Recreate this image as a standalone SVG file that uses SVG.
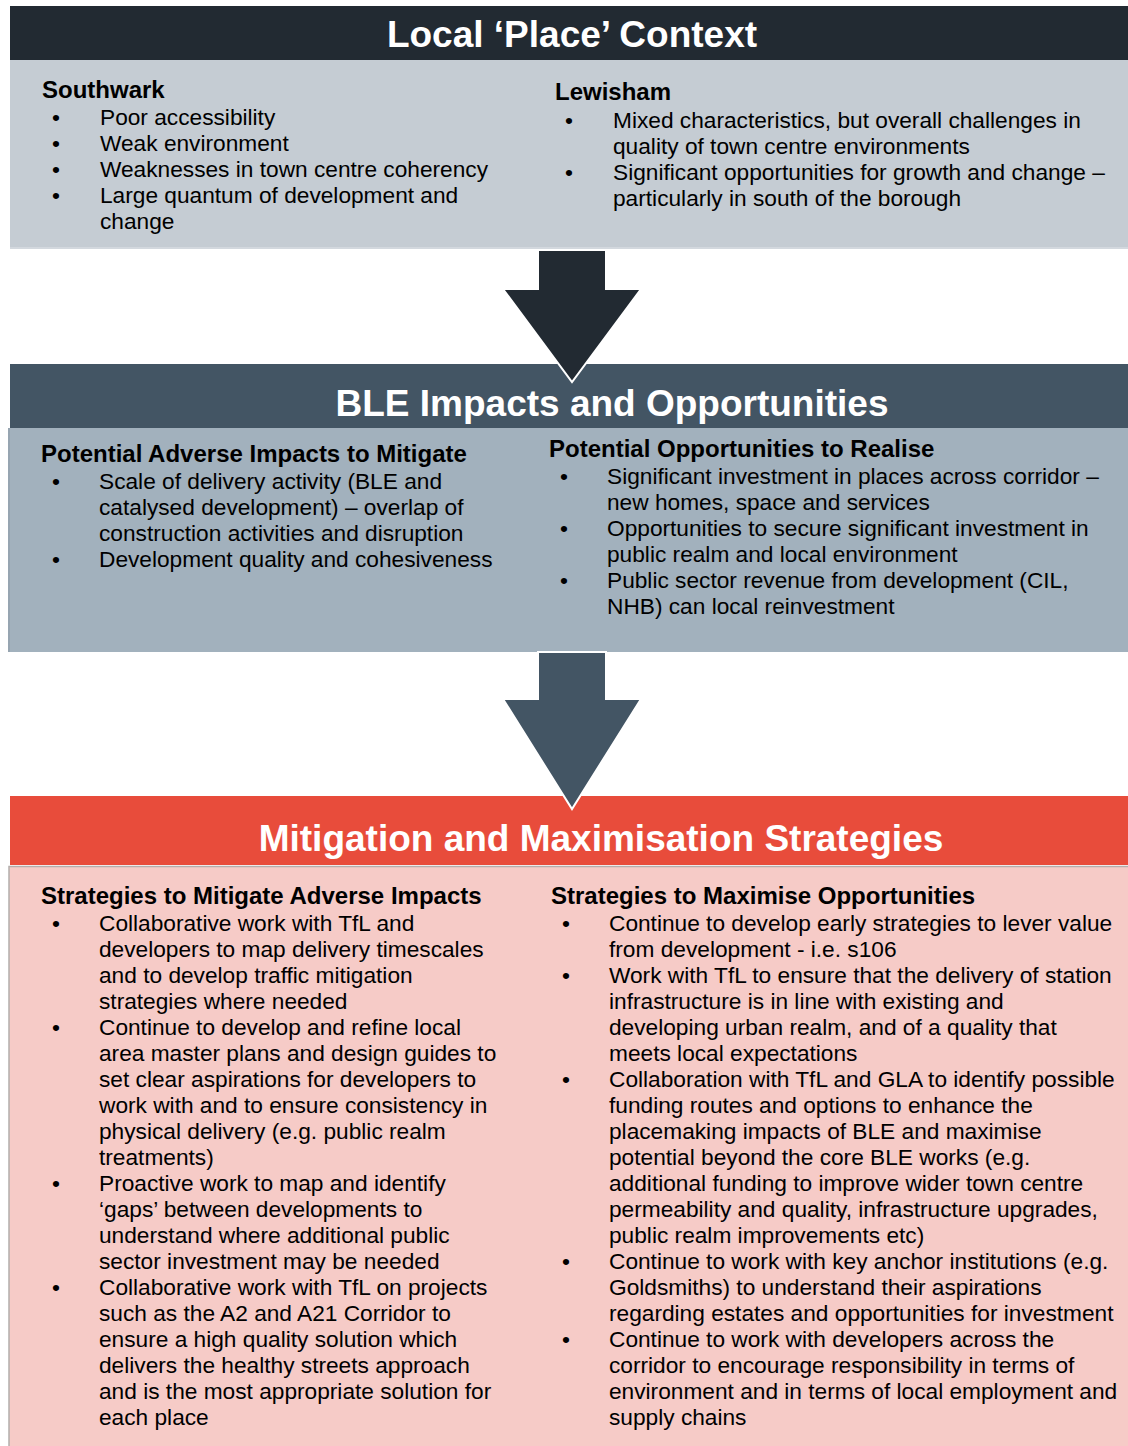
<svg xmlns="http://www.w3.org/2000/svg" width="1128" height="1446" viewBox="0 0 1128 1446">
<style>
text{font-family:"Liberation Sans",Arial,sans-serif;fill:#000}
.t{font-size:22.7px}
.h{font-size:24px;font-weight:bold}
.title{font-size:37px;font-weight:bold;fill:#fff;text-anchor:middle}
</style>
<rect width="1128" height="1446" fill="#fff"/>
<g id="local-context">
<rect x="10" y="60" width="1118" height="189" fill="#c5ccd3"/>
<rect x="10" y="247" width="1118" height="2" fill="#d3d8de"/>
<rect x="10" y="6" width="1118" height="54" fill="#222a32"/>
<text class="title" x="572" y="47">Local ‘Place’ Context</text>
<text class="h" x="42" y="98">Southwark</text>
<text class="t" x="52" y="125">•</text><text class="t" x="100" y="125">Poor accessibility</text>
<text class="t" x="52" y="151">•</text><text class="t" x="100" y="151">Weak environment</text>
<text class="t" x="52" y="177">•</text><text class="t" x="100" y="177">Weaknesses in town centre coherency</text>
<text class="t" x="52" y="203">•</text><text class="t" x="100" y="203">Large quantum of development and</text>
<text class="t" x="100" y="229">change</text>
<text class="h" x="555" y="100">Lewisham</text>
<text class="t" x="565" y="128">•</text><text class="t" x="613" y="128">Mixed characteristics, but overall challenges in</text>
<text class="t" x="613" y="154">quality of town centre environments</text>
<text class="t" x="565" y="180">•</text><text class="t" x="613" y="180">Significant opportunities for growth and change –</text>
<text class="t" x="613" y="206">particularly in south of the borough</text>
</g>
<g id="ble-impacts">
<rect x="8" y="428" width="1120" height="224" fill="#a2b1bd"/>
<rect x="8" y="428" width="2" height="224" fill="#97a5b1"/>
<rect x="10" y="364" width="1118" height="64" fill="#435564"/>
<text class="title" x="612" y="416">BLE Impacts and Opportunities</text>
<text class="h" x="41" y="462">Potential Adverse Impacts to Mitigate</text>
<text class="t" x="52" y="489">•</text><text class="t" x="99" y="489">Scale of delivery activity (BLE and</text>
<text class="t" x="99" y="515">catalysed development) – overlap of</text>
<text class="t" x="99" y="541">construction activities and disruption</text>
<text class="t" x="52" y="567">•</text><text class="t" x="99" y="567">Development quality and cohesiveness</text>
<text class="h" x="549" y="457">Potential Opportunities to Realise</text>
<text class="t" x="560" y="484">•</text><text class="t" x="607" y="484">Significant investment in places across corridor –</text>
<text class="t" x="607" y="510">new homes, space and services</text>
<text class="t" x="560" y="536">•</text><text class="t" x="607" y="536">Opportunities to secure significant investment in</text>
<text class="t" x="607" y="562">public realm and local environment</text>
<text class="t" x="560" y="588">•</text><text class="t" x="607" y="588">Public sector revenue from development (CIL,</text>
<text class="t" x="607" y="614">NHB) can local reinvestment</text>
</g>
<g id="strategies">
<rect x="9" y="866.5" width="1120" height="581" fill="#f6cbc7" stroke="#b3aeac" stroke-width="1.5"/>
<rect x="10" y="796" width="1118" height="69" fill="#e84c3b"/>
<text class="title" x="601" y="851">Mitigation and Maximisation Strategies</text>
<text class="h" x="41" y="904">Strategies to Mitigate Adverse Impacts</text>
<text class="t" x="52" y="931">•</text><text class="t" x="99" y="931">Collaborative work with TfL and</text>
<text class="t" x="99" y="957">developers to map delivery timescales</text>
<text class="t" x="99" y="983">and to develop traffic mitigation</text>
<text class="t" x="99" y="1009">strategies where needed</text>
<text class="t" x="52" y="1035">•</text><text class="t" x="99" y="1035">Continue to develop and refine local</text>
<text class="t" x="99" y="1061">area master plans and design guides to</text>
<text class="t" x="99" y="1087">set clear aspirations for developers to</text>
<text class="t" x="99" y="1113">work with and to ensure consistency in</text>
<text class="t" x="99" y="1139">physical delivery (e.g. public realm</text>
<text class="t" x="99" y="1165">treatments)</text>
<text class="t" x="52" y="1191">•</text><text class="t" x="99" y="1191">Proactive work to map and identify</text>
<text class="t" x="99" y="1217">‘gaps’ between developments to</text>
<text class="t" x="99" y="1243">understand where additional public</text>
<text class="t" x="99" y="1269">sector investment may be needed</text>
<text class="t" x="52" y="1295">•</text><text class="t" x="99" y="1295">Collaborative work with TfL on projects</text>
<text class="t" x="99" y="1321">such as the A2 and A21 Corridor to</text>
<text class="t" x="99" y="1347">ensure a high quality solution which</text>
<text class="t" x="99" y="1373">delivers the healthy streets approach</text>
<text class="t" x="99" y="1399">and is the most appropriate solution for</text>
<text class="t" x="99" y="1425">each place</text>
<text class="h" x="551" y="904">Strategies to Maximise Opportunities</text>
<text class="t" x="562" y="931">•</text><text class="t" x="609" y="931">Continue to develop early strategies to lever value</text>
<text class="t" x="609" y="957">from development - i.e. s106</text>
<text class="t" x="562" y="983">•</text><text class="t" x="609" y="983">Work with TfL to ensure that the delivery of station</text>
<text class="t" x="609" y="1009">infrastructure is in line with existing and</text>
<text class="t" x="609" y="1035">developing urban realm, and of a quality that</text>
<text class="t" x="609" y="1061">meets local expectations</text>
<text class="t" x="562" y="1087">•</text><text class="t" x="609" y="1087">Collaboration with TfL and GLA to identify possible</text>
<text class="t" x="609" y="1113">funding routes and options to enhance the</text>
<text class="t" x="609" y="1139">placemaking impacts of BLE and maximise</text>
<text class="t" x="609" y="1165">potential beyond the core BLE works (e.g.</text>
<text class="t" x="609" y="1191">additional funding to improve wider town centre</text>
<text class="t" x="609" y="1217">permeability and quality, infrastructure upgrades,</text>
<text class="t" x="609" y="1243">public realm improvements etc)</text>
<text class="t" x="562" y="1269">•</text><text class="t" x="609" y="1269">Continue to work with key anchor institutions (e.g.</text>
<text class="t" x="609" y="1295">Goldsmiths) to understand their aspirations</text>
<text class="t" x="609" y="1321">regarding estates and opportunities for investment</text>
<text class="t" x="562" y="1347">•</text><text class="t" x="609" y="1347">Continue to work with developers across the</text>
<text class="t" x="609" y="1373">corridor to encourage responsibility in terms of</text>
<text class="t" x="609" y="1399">environment and in terms of local employment and</text>
<text class="t" x="609" y="1425">supply chains</text>
</g>
<g id="connectors">
<path d="M538,250 H606 V289 H641 L572,382 L503,289 H538 Z" fill="#222a32" stroke="#fff" stroke-width="2" stroke-linejoin="miter"/>
<path d="M538,652 H606 V699 H641 L572,809 L503,699 H538 Z" fill="#435564" stroke="#fff" stroke-width="2" stroke-linejoin="miter"/>
</g>
</svg>
